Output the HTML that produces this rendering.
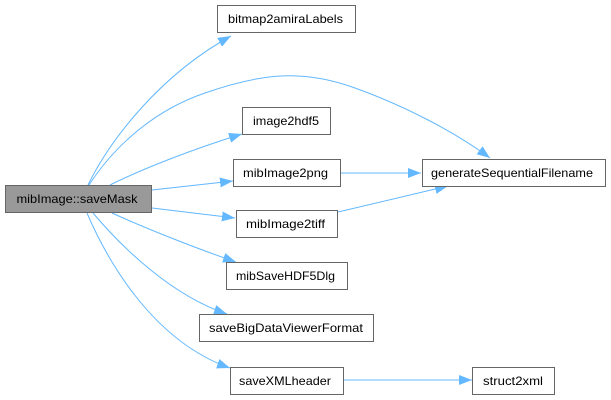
<!DOCTYPE html>
<html>
<head>
<meta charset="utf-8">
<style>
  html,body{margin:0;padding:0;background:#fff;}
  svg{display:block;}
  text{font-family:"Liberation Sans",Arial,sans-serif;font-size:12px;fill:#000;}
</style>
</head>
<body>
<svg width="611" height="400" viewBox="0 0 611 400" xmlns="http://www.w3.org/2000/svg">
  <defs>
    <marker id="ah" viewBox="0 0 13 10" refX="13" refY="5" markerWidth="13" markerHeight="10" markerUnits="userSpaceOnUse" orient="auto">
      <path d="M0,0 L13,5 L0,10 z" fill="#63b8ff"/>
    </marker>
  </defs>
  <g fill="none" stroke="#63b8ff" stroke-width="1" marker-end="url(#ah)">
    <path d="M88,185 C110,140 160,75 231,36"/>
    <path d="M89,185 C115,145 155,110 205,93 C265,72 305,70 355,88 C405,106 455,132 490,158"/>
    <path d="M110,185 C140,170 190,150 242,134"/>
    <path d="M152,190 L233,181"/>
    <path d="M152,208 L235,218"/>
    <path d="M112,213 C145,228 195,248 236,262"/>
    <path d="M93,213 C120,245 170,295 227,314"/>
    <path d="M87,213 C105,255 150,340 230,368"/>
    <path d="M340,173 L421,173"/>
    <path d="M338,212 L448,186"/>
    <path d="M344,380 L472,380"/>
  </g>
  <g stroke="#666666" stroke-width="1">
    <rect x="5.5" y="185.5" width="146" height="27" fill="#999999"/>
    <rect x="217.5" y="5.5" width="138" height="27" fill="#ffffff"/>
    <rect x="242.5" y="107.5" width="88" height="27" fill="#ffffff"/>
    <rect x="233.5" y="159.5" width="107" height="27" fill="#ffffff"/>
    <rect x="236.5" y="210.5" width="101" height="27" fill="#ffffff"/>
    <rect x="226.5" y="262.5" width="121" height="27" fill="#ffffff"/>
    <rect x="199.5" y="314.5" width="174" height="27" fill="#ffffff"/>
    <rect x="230.5" y="367.5" width="113" height="27" fill="#ffffff"/>
    <rect x="422.5" y="159.5" width="183" height="27" fill="#ffffff"/>
    <rect x="472.5" y="367.5" width="82" height="27" fill="#ffffff"/>
  </g>
  <g>
    <text x="16.5" y="203" textLength="121" lengthAdjust="spacingAndGlyphs">mibImage::saveMask</text>
    <text x="228" y="23" textLength="115" lengthAdjust="spacingAndGlyphs">bitmap2amiraLabels</text>
    <text x="253" y="125" textLength="66" lengthAdjust="spacingAndGlyphs">image2hdf5</text>
    <text x="243" y="177" textLength="85" lengthAdjust="spacingAndGlyphs">mibImage2png</text>
    <text x="246" y="228" textLength="79" lengthAdjust="spacingAndGlyphs">mibImage2tiff</text>
    <text x="236" y="280" textLength="99" lengthAdjust="spacingAndGlyphs">mibSaveHDF5Dlg</text>
    <text x="209" y="332" textLength="154" lengthAdjust="spacingAndGlyphs">saveBigDataViewerFormat</text>
    <text x="239" y="385" textLength="92" lengthAdjust="spacingAndGlyphs">saveXMLheader</text>
    <text x="431" y="177" textLength="162" lengthAdjust="spacingAndGlyphs">generateSequentialFilename</text>
    <text x="483" y="385" textLength="60" lengthAdjust="spacingAndGlyphs">struct2xml</text>
  </g>
</svg>
</body>
</html>
